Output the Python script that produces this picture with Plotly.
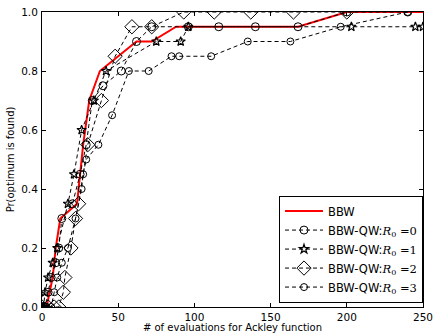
import plotly.graph_objects as go

bbw_x = [0, 3, 5, 7, 9, 12, 23, 27, 31, 38, 62, 72, 88, 168, 200, 250]
bbw_y = [0, 0, 0.05, 0.1, 0.2, 0.3, 0.35, 0.55, 0.7, 0.8, 0.9, 0.9, 0.95, 0.95, 1.0, 1.0]

r0_x = [0, 2, 4, 6, 9, 11, 13, 20, 25, 29, 33, 40, 52, 62, 72, 96, 116, 140, 168, 200, 240]
r0_y = [0, 0, 0.05, 0.1, 0.15, 0.2, 0.3, 0.35, 0.45, 0.55, 0.7, 0.75, 0.8, 0.9, 0.95, 0.95, 0.95, 0.95, 0.95, 1.0, 1.0]

r1_x = [0, 1, 2, 4, 7, 10, 17, 21, 26, 34, 42, 75, 91, 96, 203, 245, 250]
r1_y = [0, 0, 0.05, 0.1, 0.15, 0.2, 0.35, 0.45, 0.6, 0.7, 0.8, 0.9, 0.9, 0.95, 0.95, 0.95, 0.95]

r2_x = [0, 4, 8, 11, 14, 15, 19, 22, 24, 30, 39, 48, 59, 72, 93, 113, 137, 165, 200]
r2_y = [0, 0, 0, 0, 0.05, 0.1, 0.2, 0.3, 0.35, 0.55, 0.7, 0.85, 0.95, 0.95, 1.0, 1.0, 1.0, 1.0, 1.0]

r3_x = [0, 3, 6, 8, 10, 13, 17, 22, 26, 27, 29, 37, 46, 57, 70, 85, 90, 111, 135, 163, 196, 240]
r3_y = [0, 0, 0, 0.05, 0.1, 0.15, 0.2, 0.3, 0.4, 0.45, 0.5, 0.55, 0.65, 0.8, 0.8, 0.85, 0.85, 0.85, 0.9, 0.9, 0.95, 1.0]

x_ticks = [0, 50, 100, 150, 200, 250]
y_ticks = [0.0, 0.2, 0.4, 0.6, 0.8, 1.0]
y_tick_text = ["0.0", "0.2", "0.4", "0.6", "0.8", "1.0"]


def lab(r):
    return ("BBW-QW:<span style='font-family:DejaVu Serif'><i>R</i><sub>0</sub>"
            " =" + str(r) + "</span>")


fig = go.Figure()
dash = "4px,3px"
common_line = dict(color="black", width=1, dash=dash)

fig.add_trace(go.Scatter(x=bbw_x, y=bbw_y, mode="lines", name="BBW",
                         line=dict(color="red", width=2)))
fig.add_trace(go.Scatter(x=r0_x, y=r0_y, mode="lines+markers", name=lab(0),
                         line=common_line,
                         marker=dict(symbol="circle-open", size=8, color="black", line=dict(width=1))))
fig.add_trace(go.Scatter(x=r1_x, y=r1_y, mode="lines+markers", name=lab(1),
                         line=common_line,
                         marker=dict(symbol="star-open", size=7, color="black", line=dict(width=1.2))))
fig.add_trace(go.Scatter(x=r2_x, y=r2_y, mode="lines+markers", name=lab(2),
                         line=common_line,
                         marker=dict(symbol="diamond-open", size=11, color="black", line=dict(width=1))))
fig.add_trace(go.Scatter(x=r3_x, y=r3_y, mode="lines+markers", name=lab(3),
                         line=common_line,
                         marker=dict(symbol="circle-open", size=7, color="black", line=dict(width=1))))

axis_common = dict(showline=True, linecolor="black", linewidth=1, mirror="allticks",
                   ticks="inside", ticklen=4, tickcolor="black", showgrid=False,
                   zeroline=False, automargin=False, ticklabeloverflow="allow",
                   tickfont=dict(family="DejaVu Sans", size=10.5, color="black"))

fig.update_layout(
    width=433, height=333,
    margin=dict(l=42, r=10, t=12, b=26),
    paper_bgcolor="white", plot_bgcolor="white",
    font=dict(family="DejaVu Sans", size=10, color="black"),
    xaxis=dict(range=[0, 250], tickvals=x_ticks, ticklabelstandoff=0,
               title=dict(text="# of evaluations for Ackley function", standoff=2,
                          font=dict(size=10)), **axis_common),
    yaxis=dict(range=[0, 1.0], tickvals=y_ticks, ticktext=y_tick_text,
               ticklabelstandoff=1,
               title=dict(text="Pr(optimum is found)", standoff=4, font=dict(size=10)),
               **axis_common),
    legend=dict(x=1, y=0.015, xanchor="right", yanchor="bottom",
                bgcolor="white", bordercolor="black", borderwidth=1,
                font=dict(family="DejaVu Sans", size=11.5), tracegroupgap=0,
                itemwidth=38),
    showlegend=True,
)

fig.write_html("out.html")
